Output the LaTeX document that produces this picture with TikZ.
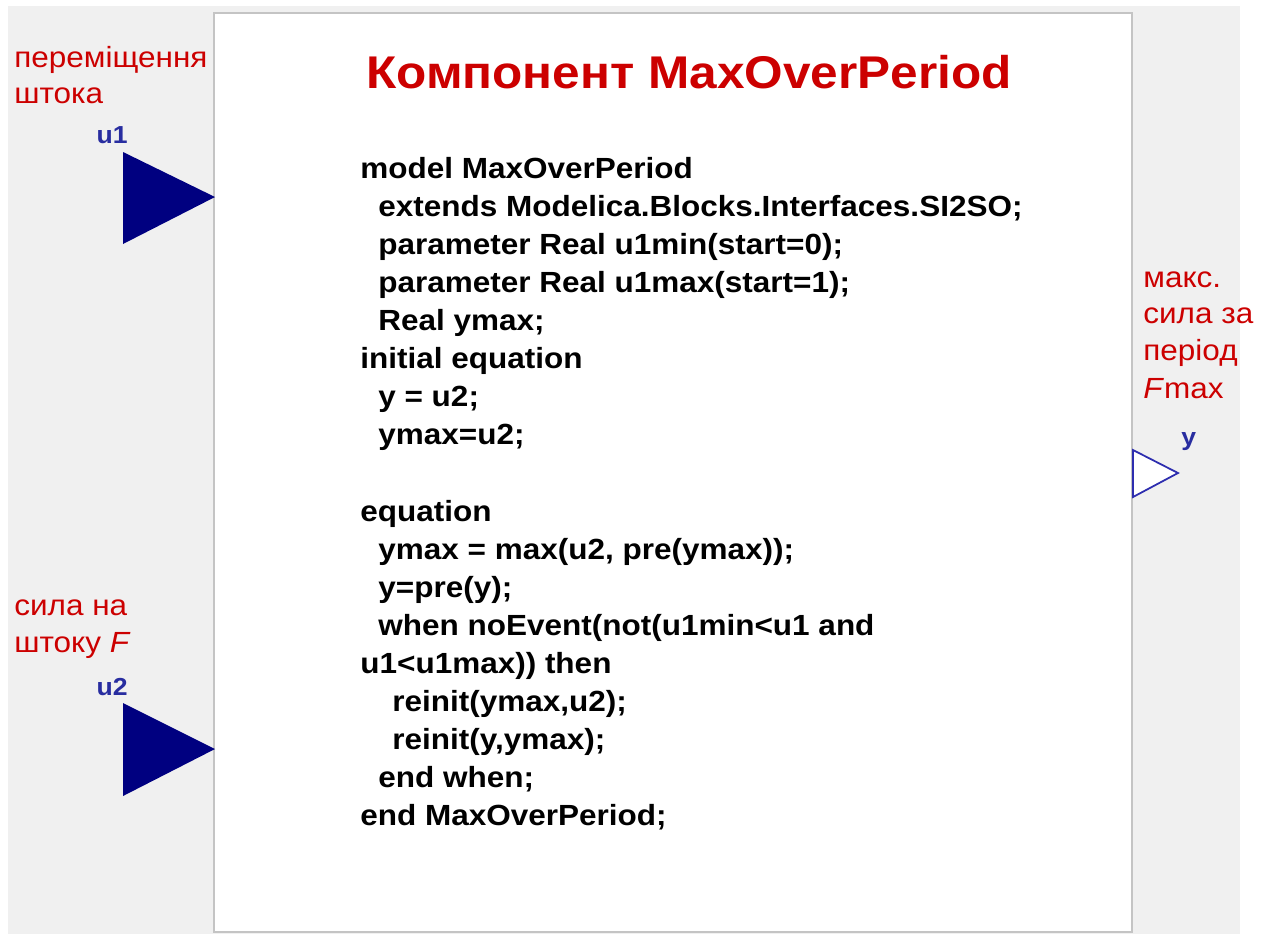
\documentclass[tikz,border=0pt]{standalone}
\usepackage{fontspec}
\setmainfont{Liberation Sans}
\newfontfamily\wideface[FakeStretch=1.08]{Liberation Sans}

\definecolor{panelgray}{RGB}{240,240,240}
\definecolor{framegray}{RGB}{196,196,196}
\definecolor{labelred}{RGB}{204,0,0}
\definecolor{portnavy}{RGB}{0,0,128}
\definecolor{portname}{RGB}{40,45,160}
\definecolor{outblue}{RGB}{45,45,175}

\tikzset{
  sidelabel/.style={labelred, inner sep=0pt, align=left,
    font=\wideface\fontsize{16.6}{21}\selectfont},
  pinlabel/.style={portname, inner sep=0pt,
    font=\wideface\fontsize{14}{16}\selectfont\bfseries},
  codetext/.style={black, inner sep=0pt, align=left,
    font=\wideface\fontsize{16.6}{21.66}\selectfont\bfseries}
}

\begin{document}
\begin{tikzpicture}[x=0.02cm,y=-0.02cm]
	\useasboundingbox (0,0) rectangle (1263,934);
	
	% grey canvas and the white block
	\fill[panelgray] (8,6) rectangle (1240,934);
	\draw[framegray, line width = 1.6pt, fill=white] (214,13) rectangle (1132,932);
	
	% input connectors
	\fill[portnavy] (123,152) -- (215,197) -- (123,244) -- cycle;
	\fill[portnavy] (123,703) -- (215,749) -- (123,796) -- cycle;
	
	% output connector
	\draw[outblue, line width = 1pt, fill=white] (1133,450) -- (1178,473) -- (1133,497) -- cycle;
	
	% connector names
	\node[pinlabel, anchor=base east] (u1) at (128,143) {u1};
	\node[pinlabel, anchor=base east] (u2) at (128,695) {u2};
	\node[pinlabel, anchor=base west] (y) at (1181,445) {y};
	
	% descriptions
	\node[sidelabel, anchor=base west] (displ) at (14,67) {переміщення};
	\node[sidelabel, anchor=base west] (displ2) at (14,103) {штока};
	\node[sidelabel, anchor=base west] (force) at (14,615) {сила на};
	\node[sidelabel, anchor=base west] (force2) at (14,652) {штоку \textit{F}};
	\node[sidelabel, anchor=base west] (fmax) at (1143,287) {макс.};
	\node[sidelabel, anchor=base west] (fmax2) at (1143,323) {сила за};
	\node[sidelabel, anchor=base west] (fmax3) at (1143,360) {період};
	\node[sidelabel, anchor=base west] (fmax4) at (1143,398) {\textit{F}max};
	
	% title
	\node[labelred, inner sep=0pt, anchor=base, font=\wideface\fontsize{26.1}{30}\selectfont\bfseries] (title) at (689,88) {Компонент MaxOverPeriod};
	
	% model source
	\node[codetext, anchor=north west] (code) at (360,157) {model MaxOverPeriod\\
		\hspace*{0.36cm}extends Modelica.Blocks.Interfaces.SI2SO;\\
		\hspace*{0.36cm}parameter Real u1min(start=0);\\
		\hspace*{0.36cm}parameter Real u1max(start=1);\\
		\hspace*{0.36cm}Real ymax;\\
		initial equation\\
		\hspace*{0.36cm}y = u2;\\
		\hspace*{0.36cm}ymax=u2;\\[21.66pt]
		equation\\
		\hspace*{0.36cm}ymax = max(u2, pre(ymax));\\
		\hspace*{0.36cm}y=pre(y);\\
		\hspace*{0.36cm}when noEvent(not(u1min<u1 and\\
		u1<u1max)) then\\
		\hspace*{0.64cm}reinit(ymax,u2);\\
		\hspace*{0.64cm}reinit(y,ymax);\\
		\hspace*{0.36cm}end when;\\
		end MaxOverPeriod;};
\end{tikzpicture}
\end{document}
